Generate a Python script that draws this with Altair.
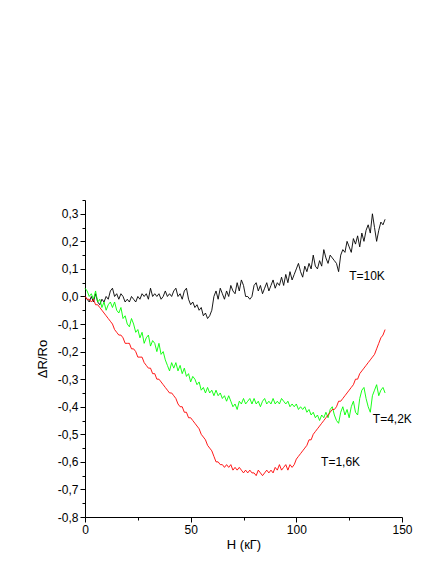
import altair as alt
import pandas as pd

# Field H (kG), sampled every 1 kG from 0 to 142
t10k = [0.00, -0.01, -0.02, 0.00, -0.02, 0.01, -0.02, -0.03, -0.01, -0.02,
        0.00, -0.01, 0.02, 0.03, 0.00, 0.01, -0.01, 0.01, 0.00, -0.02,
        -0.01, -0.02, 0.00, -0.01, -0.02, 0.00, -0.01, 0.01, 0.00, 0.01,
        -0.01, 0.03, 0.00, 0.01, 0.00, 0.01, -0.01, 0.00, 0.02, 0.00,
        0.01, 0.00, 0.02, 0.03, 0.00, 0.01, -0.01, 0.02, 0.03, -0.01,
        -0.03, -0.02, -0.04, -0.03, -0.05, -0.04, -0.07, -0.06, -0.08, -0.07,
        -0.05, 0.00, 0.02, -0.01, 0.03, 0.01, -0.01, 0.02, 0.00, 0.04,
        0.02, 0.01, 0.05, 0.02, 0.06, 0.04, 0.00, 0.00, -0.01, 0.00,
        0.04, 0.05, 0.02, 0.04, 0.01, 0.03, 0.05, 0.02, 0.04, 0.06,
        0.03, 0.05, 0.04, 0.07, 0.04, 0.08, 0.05, 0.09, 0.06, 0.08,
        0.10, 0.12, 0.09, 0.07, 0.11, 0.09, 0.12, 0.10, 0.15, 0.11,
        0.10, 0.13, 0.11, 0.17, 0.14, 0.12, 0.15, 0.14, 0.13, 0.12,
        0.09, 0.15, 0.17, 0.16, 0.20, 0.18, 0.16, 0.21, 0.19, 0.22,
        0.18, 0.23, 0.20, 0.24, 0.26, 0.23, 0.30, 0.25, 0.20, 0.24,
        0.27, 0.26, 0.28]

t42k = [0.03, 0.02, 0.00, 0.01, -0.01, 0.02, -0.02, -0.01, -0.04, -0.02,
        -0.05, -0.03, -0.02, -0.04, -0.02, -0.05, -0.06, -0.04, -0.08, -0.07,
        -0.10, -0.11, -0.08, -0.10, -0.13, -0.12, -0.15, -0.13, -0.17, -0.15,
        -0.14, -0.18, -0.16, -0.17, -0.20, -0.17, -0.21, -0.20, -0.23, -0.25,
        -0.27, -0.24, -0.26, -0.24, -0.27, -0.25, -0.28, -0.26, -0.29, -0.28,
        -0.31, -0.29, -0.30, -0.32, -0.31, -0.34, -0.33, -0.35, -0.33, -0.35,
        -0.34, -0.36, -0.34, -0.36, -0.35, -0.37, -0.36, -0.38, -0.36, -0.38,
        -0.40, -0.39, -0.41, -0.38, -0.39, -0.37, -0.39, -0.38, -0.37, -0.39,
        -0.37, -0.39, -0.38, -0.40, -0.38, -0.37, -0.39, -0.38, -0.39, -0.37,
        -0.39, -0.38, -0.39, -0.37, -0.38, -0.39, -0.38, -0.40, -0.39, -0.40,
        -0.39, -0.41, -0.40, -0.41, -0.40, -0.42, -0.41, -0.43, -0.42, -0.44,
        -0.43, -0.45, -0.43, -0.44, -0.42, -0.44, -0.41, -0.40, -0.43, -0.45,
        -0.46, -0.42, -0.40, -0.43, -0.41, -0.44, -0.40, -0.38, -0.42, -0.43,
        -0.37, -0.34, -0.33, -0.37, -0.40, -0.42, -0.36, -0.34, -0.32, -0.36,
        -0.34, -0.33, -0.35]

t16k = [0.00, -0.01, -0.01, -0.02, -0.01, -0.03, -0.03, -0.04, -0.05, -0.06,
        -0.07, -0.08, -0.09, -0.10, -0.12, -0.13, -0.14, -0.14, -0.15, -0.17,
        -0.17, -0.17, -0.19, -0.19, -0.20, -0.22, -0.22, -0.22, -0.24, -0.25,
        -0.26, -0.26, -0.28, -0.28, -0.30, -0.30, -0.31, -0.32, -0.33, -0.34,
        -0.35, -0.35, -0.36, -0.37, -0.39, -0.40, -0.40, -0.42, -0.42, -0.44,
        -0.44, -0.45, -0.46, -0.47, -0.48, -0.50, -0.51, -0.52, -0.54, -0.55,
        -0.56, -0.58, -0.60, -0.60, -0.61, -0.61, -0.62, -0.61, -0.62, -0.61,
        -0.63, -0.62, -0.63, -0.62, -0.63, -0.64, -0.63, -0.64, -0.63, -0.64,
        -0.64, -0.65, -0.63, -0.64, -0.65, -0.64, -0.63, -0.64, -0.63, -0.64,
        -0.62, -0.63, -0.61, -0.63, -0.62, -0.61, -0.63, -0.61, -0.62, -0.61,
        -0.59, -0.58, -0.57, -0.56, -0.55, -0.54, -0.52, -0.52, -0.50, -0.49,
        -0.48, -0.47, -0.46, -0.45, -0.44, -0.43, -0.42, -0.41, -0.41, -0.40,
        -0.38, -0.38, -0.37, -0.36, -0.35, -0.34, -0.33, -0.32, -0.30, -0.30,
        -0.28, -0.27, -0.26, -0.25, -0.24, -0.23, -0.22, -0.21, -0.19, -0.17,
        -0.15, -0.14, -0.12]

series_names = ["10K", "4,2K", "1,6K"]
series_colors = ["#000000", "#00ff00", "#ff0000"]

label_text = ["T=10K", "T=4,2K", "T=1,6K"]
label_h = [125.0, 136.2, 111.7]
label_y = [0.073, -0.444, -0.602]

y_major = [-0.8, -0.7, -0.6, -0.5, -0.4, -0.3, -0.2, -0.1, 0.0, 0.1, 0.2, 0.3]
y_minor = [-0.75, -0.65, -0.55, -0.45, -0.35, -0.25, -0.15, -0.05, 0.05, 0.15, 0.25, 0.35]
x_major = [0, 50, 100, 150]
x_minor = [25, 75, 125]

rows = []
for name, vals in zip(series_names, [t10k, t42k, t16k]):
    for i, v in enumerate(vals):
        rows.append({"H": float(i), "v": v, "s": name})
df = pd.DataFrame(rows)
lab = pd.DataFrame({"t": label_text, "H": label_h, "v": label_y})

FONT = "Liberation Sans"
xs = alt.Scale(domain=[0, 150], nice=False, zero=False)
ys = alt.Scale(domain=[-0.8, 0.35], nice=False, zero=False)
lbl = "replace(replace(format(datum.value, '.1f'), '.', ','), '\u2212', '-')"

lines = alt.Chart(df).mark_line(strokeWidth=0.9).encode(
    x=alt.X("H:Q", scale=xs, axis=alt.Axis(values=x_major, orient="bottom", title="H (кГ)",
            grid=False, tickSize=5, labelFontSize=12, titleFontSize=13,
            titleFontWeight="normal", labelFont=FONT, titleFont=FONT, labelColor="#000",
            titleColor="#000", domainColor="#000", tickColor="#000", labelPadding=2,
            titlePadding=3, format="d", labelFlush=False)),
    y=alt.Y("v:Q", scale=ys, axis=alt.Axis(values=y_major, orient="left", title="ΔR/Ro",
            grid=False, tickSize=5, labelFontSize=12, titleFontSize=13,
            titleFontWeight="normal", labelFont=FONT, titleFont=FONT, labelColor="#000",
            titleColor="#000", domainColor="#000", tickColor="#000", labelExpr=lbl,
            labelPadding=2, titlePadding=8)),
    color=alt.Color("s:N", scale=alt.Scale(domain=series_names, range=series_colors), legend=None),
    order="H:Q",
)

minor = alt.Chart(df).mark_point(opacity=0).encode(
    x=alt.X("H:Q", scale=xs, axis=alt.Axis(values=x_minor, orient="bottom", labels=False,
            title=None, grid=False, domain=False, tickSize=3, tickColor="#000")),
    y=alt.Y("v:Q", scale=ys, axis=alt.Axis(values=y_minor, orient="left", labels=False,
            title=None, grid=False, domain=False, tickSize=3, tickColor="#000")),
)

texts = alt.Chart(lab).mark_text(align="left", baseline="middle", fontSize=12, font=FONT,
                                 color="#000").encode(
    x=alt.X("H:Q", scale=xs, axis=None),
    y=alt.Y("v:Q", scale=ys, axis=None),
    text="t:N",
)

chart = alt.layer(lines, minor, texts).resolve_axis(x="independent", y="independent").properties(
    width=317, height=317,
    autosize=alt.AutoSizeParams(type="none"),
    padding={"left": 77, "top": 192, "right": 20, "bottom": 40},
).configure_view(stroke=None)

chart.save("out.html", embed_options={"renderer": "svg", "actions": False})
